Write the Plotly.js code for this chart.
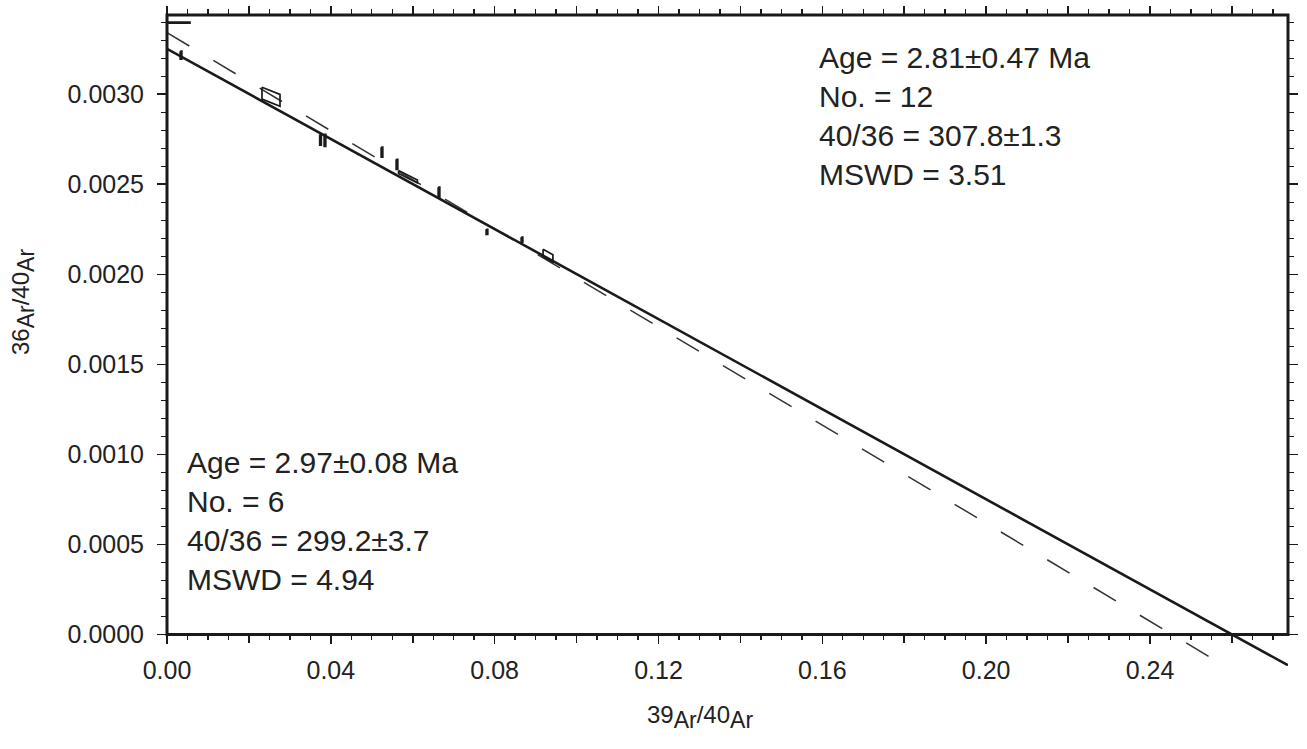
<!DOCTYPE html>
<html><head><meta charset="utf-8">
<script src="https://cdn.plot.ly/plotly-3.0.1.min.js"></script>
<style>html,body{margin:0;padding:0;background:#fff}#chart{width:1307px;height:749px}</style>
</head><body><div id="chart"></div>
<script>
// ---- data ----
// step points: 39Ar/40Ar, 36Ar/40Ar, half-errors, and tilt of the error box
const pointX = [0.0028, 0.00342, 0.02539, 0.03748, 0.03857, 0.05249, 0.05615, 0.05884, 0.06641, 0.07812, 0.08667, 0.09302];
const pointY = [0.003398, 0.003217, 0.002986, 0.002747, 0.002744, 0.002678, 0.002611, 0.002542, 0.002456, 0.002236, 0.002192, 0.002103];
const errX   = [0.0028, 0.0002, 0.0022, 0.0002, 0.0002, 0.0002, 0.0002, 0.0023, 0.0002, 0.0002, 0.0002, 0.0012];
const errY   = [0.000003, 0.000022, 0.000033, 0.000030, 0.000033, 0.000028, 0.000028, 0.000008, 0.000028, 0.000014, 0.000014, 0.000021];
const tilt   = [0, 0, -0.009, 0, 0, 0, 0, -0.0115, 0, 0, 0, -0.0125];

// isochron fit lines (end points)
const fit12X = [0, 0.2737];            // solid: 12 points
const fit12Y = [0.003252, -0.000171];
const fit6X  = [0, 0.26];              // dashed: 6 points
const fit6Y  = [0.003342, -0.000199];

// tick labels
const xLabelVals = [0, 0.04, 0.08, 0.12, 0.16, 0.20, 0.24];
const xLabelText = ['0.00', '0.04', '0.08', '0.12', '0.16', '0.20', '0.24'];
const xMidVals   = [0.02, 0.06, 0.10, 0.14, 0.18, 0.22, 0.26];
const yTickVals = [0, 0.0005, 0.0010, 0.0015, 0.0020, 0.0025, 0.0030];
const yTickText = ['0.0000', '0.0005', '0.0010', '0.0015', '0.0020', '0.0025', '0.0030'];

// statistics text
const stats12 = ['Age = 2.81±0.47 Ma', 'No. = 12', '40/36 = 307.8±1.3', 'MSWD = 3.51'];
const stats6  = ['Age = 2.97±0.08 Ma', 'No. = 6', '40/36 = 299.2±3.7', 'MSWD = 4.94'];

// ---- build ----
const xRange = [0, 0.2737];
const yRange = [-0.000175, 0.00344];
const pos0 = (0 - yRange[0]) / (yRange[1] - yRange[0]);

const boxX = [], boxY = [];
for (let i = 0; i < pointX.length; i++) {
  const x = pointX[i], y = pointY[i], ex = errX[i], ey = errY[i], t = tilt[i];
  const yl = y - t * ex, yr = y + t * ex;
  boxX.push(x - ex, x + ex, x + ex, x - ex, x - ex, null);
  boxY.push(yl + ey, yr + ey, yr - ey, yl - ey, yl + ey, null);
}

const minorY = [];
for (let k = 1; k <= 34; k++) { if (k % 5 !== 0) minorY.push(k * 0.0001); }

const font = 'Liberation Sans, Arial, Helvetica, sans-serif';
const ink = '#1a1a1a';

const traces = [
  {x: fit6X, y: fit6Y, mode: 'lines', line: {color: '#333', width: 1.5, dash: '26px,28px'}, hoverinfo: 'skip'},
  {x: fit12X, y: fit12Y, mode: 'lines', line: {color: ink, width: 2.6}, hoverinfo: 'skip'},
  {x: boxX, y: boxY, mode: 'lines', line: {color: ink, width: 1.7}, connectgaps: false, hoverinfo: 'skip'},
  {x: [0], y: [0], xaxis: 'x2', mode: 'markers', marker: {opacity: 0}, hoverinfo: 'skip'},
  {x: [0], y: [0], xaxis: 'x3', mode: 'markers', marker: {opacity: 0}, hoverinfo: 'skip'}
];

const tickCommon = {
  ticks: 'outside', ticklen: 9, tickwidth: 1.6, tickcolor: ink,
  showgrid: false, zeroline: false, showline: false,
  tickfont: {family: font, size: 25, color: '#222'}
};
const minorX = {ticks: 'outside', dtick: 0.005, tick0: 0, ticklen: 5, tickwidth: 1.4, tickcolor: ink};

const layout = {
  width: 1307, height: 749,
  margin: {l: 167, r: 19, t: 15, b: 83, pad: 0},
  paper_bgcolor: '#fff', plot_bgcolor: '#fff',
  showlegend: false,
  font: {family: font, color: ink},
  xaxis: Object.assign({}, tickCommon, {
    range: xRange, anchor: 'free', position: pos0,
    tickmode: 'array', tickvals: xLabelVals, ticktext: xLabelText,
    ticklabelstandoff: 5, minor: minorX
  }),
  xaxis3: Object.assign({}, tickCommon, {
    range: xRange, overlaying: 'x', anchor: 'free', position: pos0, side: 'bottom',
    tickmode: 'array', tickvals: xMidVals, showticklabels: false, ticklen: 8
  }),
  xaxis2: Object.assign({}, tickCommon, {
    range: xRange, overlaying: 'x', anchor: 'y', side: 'top',
    tickmode: 'array', tickvals: xLabelVals.concat(xMidVals), showticklabels: false, ticklen: 8,
    minor: minorX
  }),
  yaxis: Object.assign({}, tickCommon, {
    range: yRange, mirror: 'ticks',
    tickmode: 'array', tickvals: yTickVals, ticktext: yTickText,
    ticklabelstandoff: 8,
    minor: {ticks: 'outside', tickmode: 'array', tickvals: minorY, ticklen: 5, tickwidth: 1.4, tickcolor: ink}
  }),
  shapes: [
    {type: 'rect', xref: 'paper', yref: 'paper', x0: 0, x1: 1, y0: pos0, y1: 1,
     line: {color: ink, width: 3}, fillcolor: 'rgba(0,0,0,0)', layer: 'above'}
  ],
  annotations: [
    {xref: 'x', yref: 'y', x: 0.1590, y: 0.003300, xanchor: 'left', yanchor: 'top', align: 'left',
     showarrow: false, borderpad: 0, text: stats12.join('<br>'), font: {family: font, size: 30, color: '#222'}},
    {xref: 'x', yref: 'y', x: 0.0047, y: 0.001052, xanchor: 'left', yanchor: 'top', align: 'left',
     showarrow: false, borderpad: 0, text: stats6.join('<br>'), font: {family: font, size: 30, color: '#222'}},
    {xref: 'x', yref: 'paper', x: 0.1301, y: -0.078, xanchor: 'center', yanchor: 'middle', showarrow: false,
     text: '39<sub><span style="font-size:23px">Ar</span></sub>/40<sub><span style="font-size:23px">Ar</span></sub>',
     font: {family: font, size: 24, color: '#222'}},
    {xref: 'paper', yref: 'y', x: -0.1285, y: 0.001846, xanchor: 'center', yanchor: 'middle', showarrow: false,
     textangle: -90,
     text: '36<sub><span style="font-size:23px">Ar</span></sub>/40<sub><span style="font-size:23px">Ar</span></sub>',
     font: {family: font, size: 24, color: '#222'}}
  ]
};

Plotly.newPlot('chart', traces, layout, {staticPlot: true, displayModeBar: false});
</script>
</body></html>
